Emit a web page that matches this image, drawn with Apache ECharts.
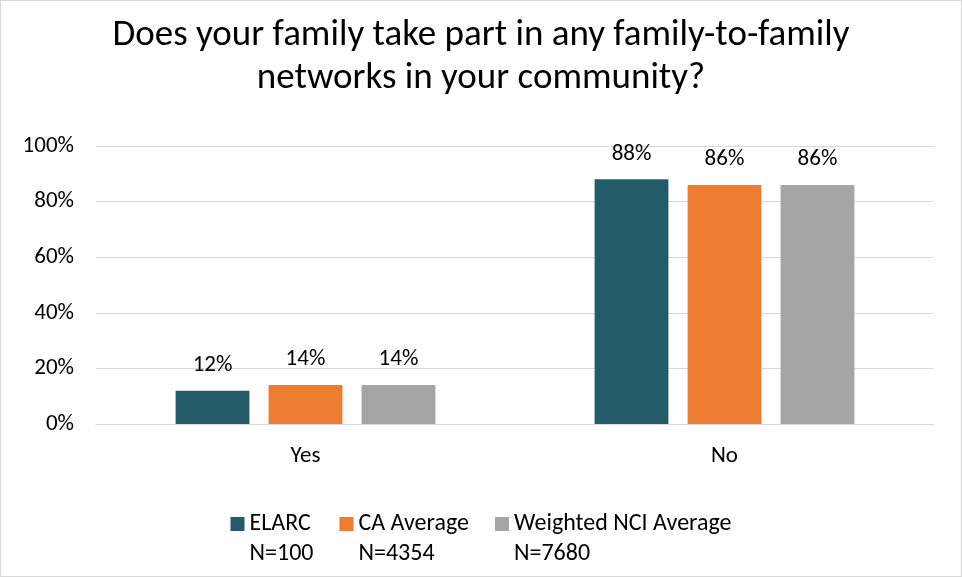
<!DOCTYPE html>
<html>
<head>
<meta charset="utf-8">
<script src="https://cdn.jsdelivr.net/npm/echarts@6/dist/echarts.min.js"></script>
<style>
  html, body { margin: 0; padding: 0; background: #fff; }
  #chart { width: 960px; height: 575px; border: 1px solid #d9d9d9; }
</style>
</head>
<body>
<div id="chart"></div>
<script>
// data
const categories = ["Yes", "No"];
const seriesNames = ["ELARC", "CA Average", "Weighted NCI Average"];
const sampleSizes = ["N=100", "N=4354", "N=7680"];
const elarc = [12, 88];
const caAverage = [14, 86];
const nciAverage = [14, 86];
const yTicks = [0, 20, 40, 60, 80, 100];

const colors = ["#235B6B", "#ED7D31", "#A5A5A5"];
const fontFamily = "Carlito, 'Open Sans', 'Noto Sans', sans-serif";
const values = [elarc, caAverage, nciAverage];

let chart = echarts.init(document.getElementById("chart"));

const labelLine = 30;

chart.setOption({
  animation: false,
  color: colors,
  title: {
    text: "Does your family take part in any family-to-family\nnetworks in your community?",
    left: "center",
    top: 8,
    textStyle: {
      fontFamily: fontFamily,
      fontSize: 37,
      fontWeight: "normal",
      color: "#000",
      lineHeight: 43
    }
  },
  legend: {
    bottom: 2,
    left: "center",
    itemWidth: 14,
    itemHeight: 44,
    itemGap: 26,
    // square sits in the top part of the icon box so it lines up with the first text line
    icon: "path://M0,0L14,0L14,14L0,14Z M0,44L14,44Z",
    data: seriesNames,
    formatter: function (name) {
      return name + "\n" + sampleSizes[seriesNames.indexOf(name)];
    },
    textStyle: {
      fontFamily: fontFamily,
      fontSize: 24,
      color: "#000",
      lineHeight: labelLine
    }
  },
  grid: {
    left: 95,
    right: 27,
    top: 145,
    bottom: 152
  },
  xAxis: {
    type: "category",
    data: categories,
    axisTick: { show: false },
    axisLine: { lineStyle: { color: "#d9d9d9" } },
    axisLabel: {
      fontFamily: fontFamily,
      fontSize: 23,
      color: "#000",
      margin: 21
    }
  },
  yAxis: {
    type: "value",
    min: yTicks[0],
    max: yTicks[yTicks.length - 1],
    interval: 20,
    axisLine: { show: false },
    axisTick: { show: false },
    splitLine: { lineStyle: { color: "#d9d9d9" } },
    axisLabel: {
      fontFamily: fontFamily,
      fontSize: 23,
      color: "#000",
      margin: 22,
      formatter: "{value}%"
    }
  },
  series: seriesNames.map(function (name, i) {
    return {
      name: name,
      type: "bar",
      data: values[i],
      barGap: "26%",
      barCategoryGap: "38%",
      label: {
        show: true,
        position: "top",
        distance: 14,
        fontFamily: fontFamily,
        fontSize: 23,
        color: "#000",
        formatter: "{c}%"
      }
    };
  })
});
</script>
</body>
</html>
